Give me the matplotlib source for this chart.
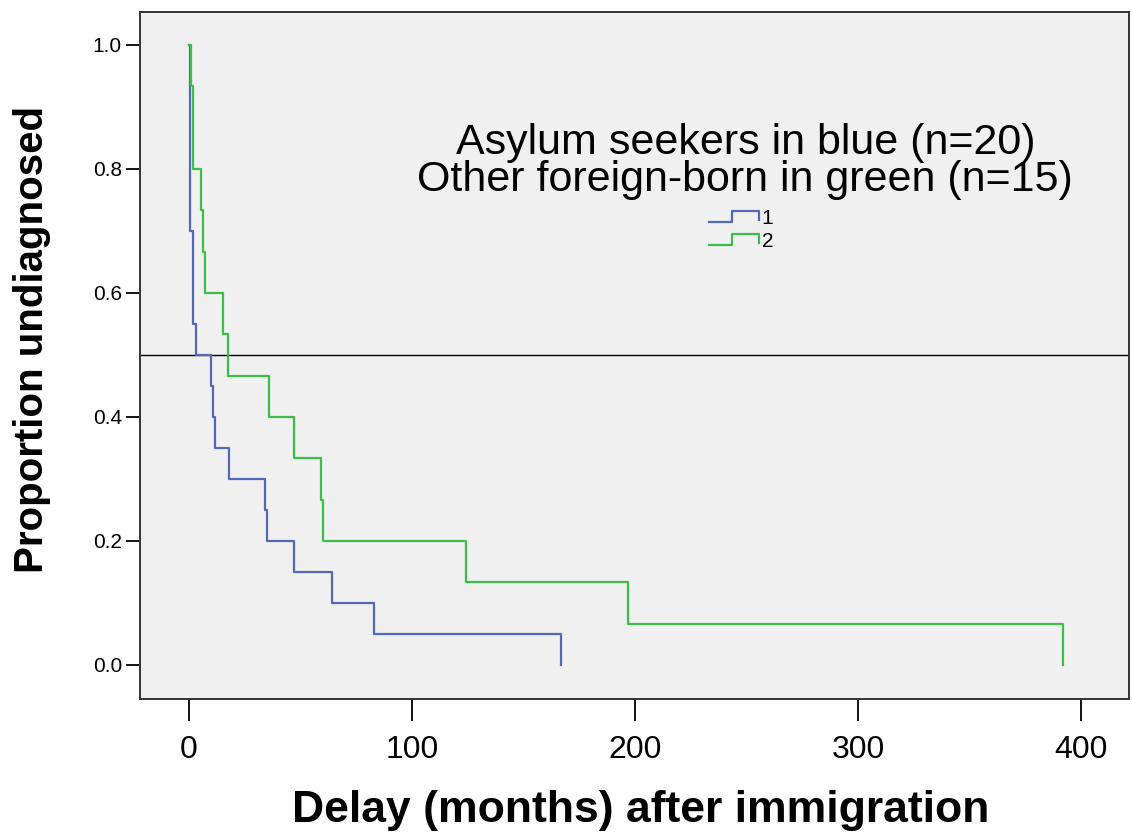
import numpy as np
import matplotlib
matplotlib.use("Agg")
import matplotlib.pyplot as plt
from matplotlib.lines import Line2D
from matplotlib.legend_handler import HandlerBase

# event times (months), one entry per diagnosis
asylum_times = [0.5, 0.5, 0.5, 0.5, 0.5, 0.5, 1.8, 1.8, 1.8, 3.1,
                9.9, 10.8, 11.7, 18, 34, 35, 47, 64, 83, 167]
other_times = [0.7, 1.8, 1.8, 5.4, 6.3, 7.2, 15.2, 17.5, 36, 47,
               59, 60, 124, 197, 392]

group_labels = ["1", "2"]
title_lines = ["Asylum seekers in blue (n=20)",
               "Other foreign-born in green (n=15)"]
x_ticks = [0, 100, 200, 300, 400]
y_ticks = [0.0, 0.2, 0.4, 0.6, 0.8, 1.0]

BLUE = "#5468b8"
GREEN = "#3cbf4a"


class StepHandler(HandlerBase):
    # legend key drawn as a little KM step, like SPSS does
    def create_artists(self, legend, orig, xd, yd, w, h, fontsize, trans):
        xs = [0, 0.45 * w, 0.45 * w, w, w]
        ys = [0.15 * h, 0.15 * h, 0.85 * h, 0.85 * h, 0.25 * h]
        ln = Line2D(np.array(xs) - xd, np.array(ys) - yd,
                    color=orig.get_color(), lw=orig.get_linewidth())
        ln.set_transform(trans)
        return [ln]


def km_curve(times):
    t = np.sort(np.array(times, dtype=float))
    n = len(t)
    surv = 1 - np.arange(1, n + 1) / n
    return np.concatenate([[0], t]), np.concatenate([[1.0], surv])


def main():
    plt.rcParams["font.family"] = ["Liberation Sans", "DejaVu Sans"]
    fig = plt.figure(figsize=(11.32, 8.32), dpi=100)
    ax = fig.add_axes([140 / 1132, 1 - 699 / 832, 989 / 1132, 687 / 832])
    ax.set_facecolor("#f0f0f0")

    ax.axhline(0.5, color="black", lw=1.0, zorder=1)

    handles = []
    for times, col in [(asylum_times, BLUE), (other_times, GREEN)]:
        x, y = km_curve(times)
        ln, = ax.step(x, y, where="post", color=col, lw=1.6, zorder=2)
        handles.append(ln)

    ax.set_xlim(-22, 421.5)
    ax.set_ylim(-0.055, 1.053)
    ax.set_xticks(x_ticks)
    ax.set_yticks(y_ticks)
    ax.set_yticklabels([f"{v:.1f}" for v in y_ticks])
    ax.tick_params(axis="x", length=16, width=1.3, labelsize=23, pad=10)
    ax.tick_params(axis="y", length=10, width=1.3, labelsize=15, pad=3)

    for s in ax.spines.values():
        s.set_color("#333333")
        s.set_linewidth(1.4)

    ax.set_xlabel("Delay (months) after immigration", fontsize=32,
                  fontweight="bold")
    ax.xaxis.set_label_coords(0.506, -0.132)
    ax.set_ylabel("Proportion undiagnosed", fontsize=29,
                  fontweight="bold")
    ax.yaxis.set_label_coords(-0.09, 0.523)

    ax.text(0.612, 0.81, title_lines[0], transform=ax.transAxes,
            ha="center", va="center", fontsize=31)
    ax.text(0.612, 0.756, title_lines[1], transform=ax.transAxes,
            ha="center", va="center", fontsize=31)

    ax.legend(handles, group_labels, loc="center",
              bbox_to_anchor=(0.608, 0.683), frameon=False,
              fontsize=15, handlelength=2.4, handletextpad=0.1,
              labelspacing=0.2,
              handler_map={Line2D: StepHandler()})

    fig.savefig("out.png", dpi=100, facecolor="white")


if __name__ == "__main__":
    main()
